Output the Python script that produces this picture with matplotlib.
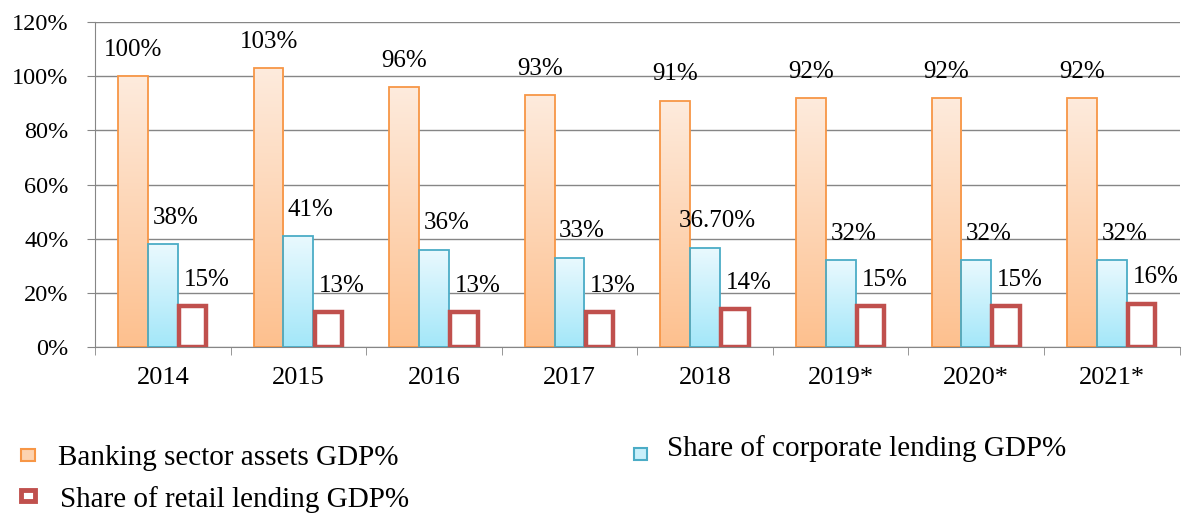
import numpy as np
import matplotlib
matplotlib.use("Agg")
import matplotlib.pyplot as plt
from matplotlib.patches import Rectangle
from matplotlib.colors import LinearSegmentedColormap

plt.rcParams['font.family'] = ['Liberation Serif', 'DejaVu Serif']

years = ['2014', '2015', '2016', '2017', '2018', '2019*', '2020*', '2021*']
assets = [100, 103, 96, 93, 91, 92, 92, 92]
corporate = [38, 41, 36, 33, 36.7, 32, 32, 32]
retail = [15, 13, 13, 13, 14, 15, 15, 16]
assets_labels = ['100%', '103%', '96%', '93%', '91%', '92%', '92%', '92%']
corporate_labels = ['38%', '41%', '36%', '33%', '36.70%', '32%', '32%', '32%']
retail_labels = ['15%', '13%', '13%', '13%', '14%', '15%', '15%', '16%']

ORANGE_EDGE = '#F79646'
BLUE_EDGE = '#4BACC6'
RED_EDGE = '#C0504D'
orange_cmap = LinearSegmentedColormap.from_list('o', ['#FDC08E', '#FEEBDD'])
blue_cmap = LinearSegmentedColormap.from_list('b', ['#A3E7F9', '#EAF9FE'])
grad = np.linspace(0, 1, 256).reshape(-1, 1)

fig = plt.figure(figsize=(11.82, 5.15), dpi=100)
ax = fig.add_axes([0.0804, 0.326, 0.9176, 0.631])

x = np.arange(len(years))
w = 0.22


def gradient_bars(xs, vals, cmap, edge):
    bars = ax.bar(xs, vals, w, facecolor='none', edgecolor=edge, linewidth=1.3, zorder=3)
    for b in bars:
        x0, h = b.get_x(), b.get_height()
        im = ax.imshow(grad, cmap=cmap, origin='lower', aspect='auto',
                       extent=(x0, x0 + w, 0, h), zorder=2)
        im.set_clip_path(b)
    return bars


gradient_bars(x - w, assets, orange_cmap, ORANGE_EDGE)
gradient_bars(x, corporate, blue_cmap, BLUE_EDGE)
ax.bar(x + w, retail, w * 0.92, facecolor='white', edgecolor=RED_EDGE, linewidth=3.2, zorder=3)

for i in range(len(years)):
    ax.annotate(assets_labels[i], (x[i] - w, assets[i]), xytext=(0, 19),
                textcoords='offset points', ha='center', va='center', fontsize=18)
    ax.annotate(corporate_labels[i], (x[i], corporate[i]), xytext=(9, 19),
                textcoords='offset points', ha='center', va='center', fontsize=18)
    ax.annotate(retail_labels[i], (x[i] + w, retail[i]), xytext=(10, 19),
                textcoords='offset points', ha='center', va='center', fontsize=18)

ax.set_xlim(-0.5, len(years) - 0.5)
ax.set_ylim(0, 120)
ax.set_yticks(np.arange(0, 121, 20))
ax.set_yticklabels([f'{v}%' for v in range(0, 121, 20)], fontsize=17.5)
ax.set_xticks(x)
ax.set_xticklabels(years, fontsize=19)
ax.set_xticks(np.arange(-0.5, len(years), 1), minor=True)
ax.tick_params(axis='x', which='major', length=0, pad=14)
ax.tick_params(axis='x', which='minor', length=6, color='#868686', direction='out')
ax.tick_params(axis='y', length=6, color='#868686', pad=13)
ax.yaxis.grid(True, color='#868686', linewidth=1)
ax.set_axisbelow(True)
for s in ['top', 'right']:
    ax.spines[s].set_visible(False)
for s in ['left', 'bottom']:
    ax.spines[s].set_color('#868686')

# legend
H, W = 515, 1182
fig.patches.append(Rectangle((21 / W, 1 - 461 / H), 14 / W, 12 / H, transform=fig.transFigure,
                             facecolor='#FDD3B0', edgecolor=ORANGE_EDGE, linewidth=1.5))
fig.patches.append(Rectangle((21 / W, 1 - 501 / H), 14 / W, 11 / H, transform=fig.transFigure,
                             facecolor='white', edgecolor=RED_EDGE, linewidth=3.5))
fig.patches.append(Rectangle((634 / W, 1 - 460 / H), 13 / W, 12 / H, transform=fig.transFigure,
                             facecolor='#C9F0FB', edgecolor=BLUE_EDGE, linewidth=1.5))
fig.text(58 / W, 1 - 458 / H, 'Banking sector assets GDP%', fontsize=21, va='center')
fig.text(60 / W, 1 - 500 / H, 'Share of retail lending GDP%', fontsize=21, va='center')
fig.text(667 / W, 1 - 449 / H, 'Share of corporate lending GDP%', fontsize=21, va='center')

fig.savefig('out.png', dpi=100)
